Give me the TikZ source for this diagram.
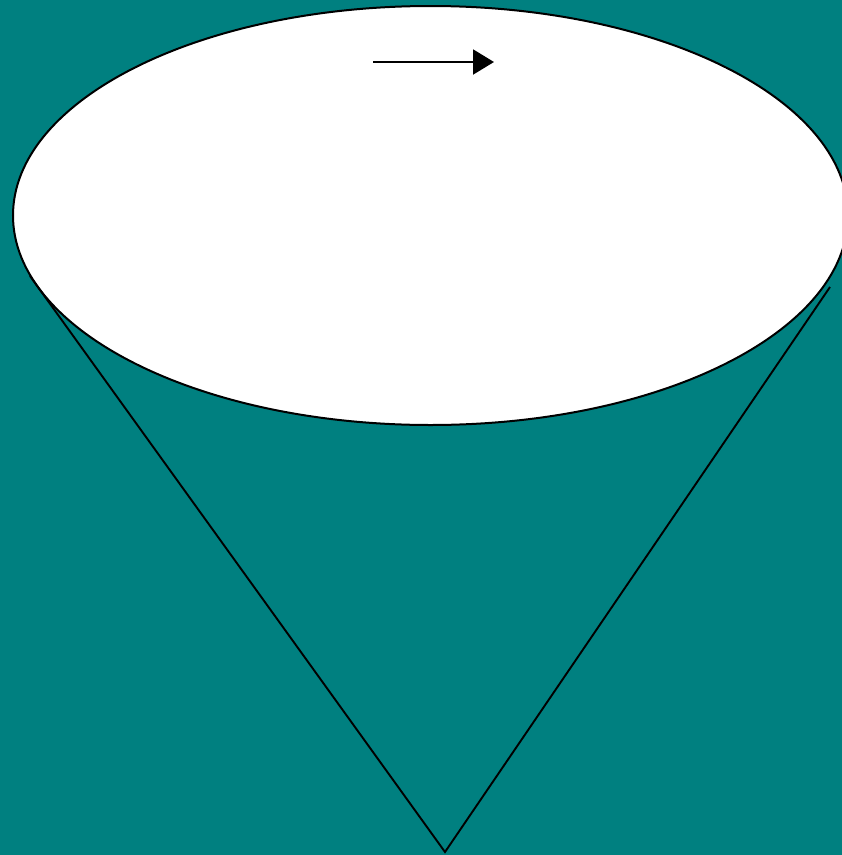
\documentclass[tikz,border=0pt]{standalone}
\usetikzlibrary{arrows.meta}
\definecolor{teal}{HTML}{008080}
\tikzset{
  outline/.style={draw=black, line width=2pt},
  conehalf/.style={draw=black, line width=1.9pt},
  motion/.style={draw=black, line width=2pt, -{Triangle[length=21pt,width=25pt]}}
}
\begin{document}
\begin{tikzpicture}[x=1pt,y=-1pt]
  \useasboundingbox (0,0) rectangle (842,855);
  \fill[teal] (0,0) rectangle (842,855);
  \coordinate (apex) at (445,852);
  \coordinate (lefttop) at (30,276);
  \coordinate (righttop) at (830,287);
  \coordinate (arrowstart) at (373,62);
  \coordinate (arrowend) at (494,62);
  \draw[outline, fill=white] (430.5,215.5) ellipse [x radius=417.5, y radius=209.5];
  \draw[conehalf] (lefttop) -- (apex) -- (righttop);
  \draw[motion] (arrowstart) -- (arrowend);
\end{tikzpicture}
\end{document}
